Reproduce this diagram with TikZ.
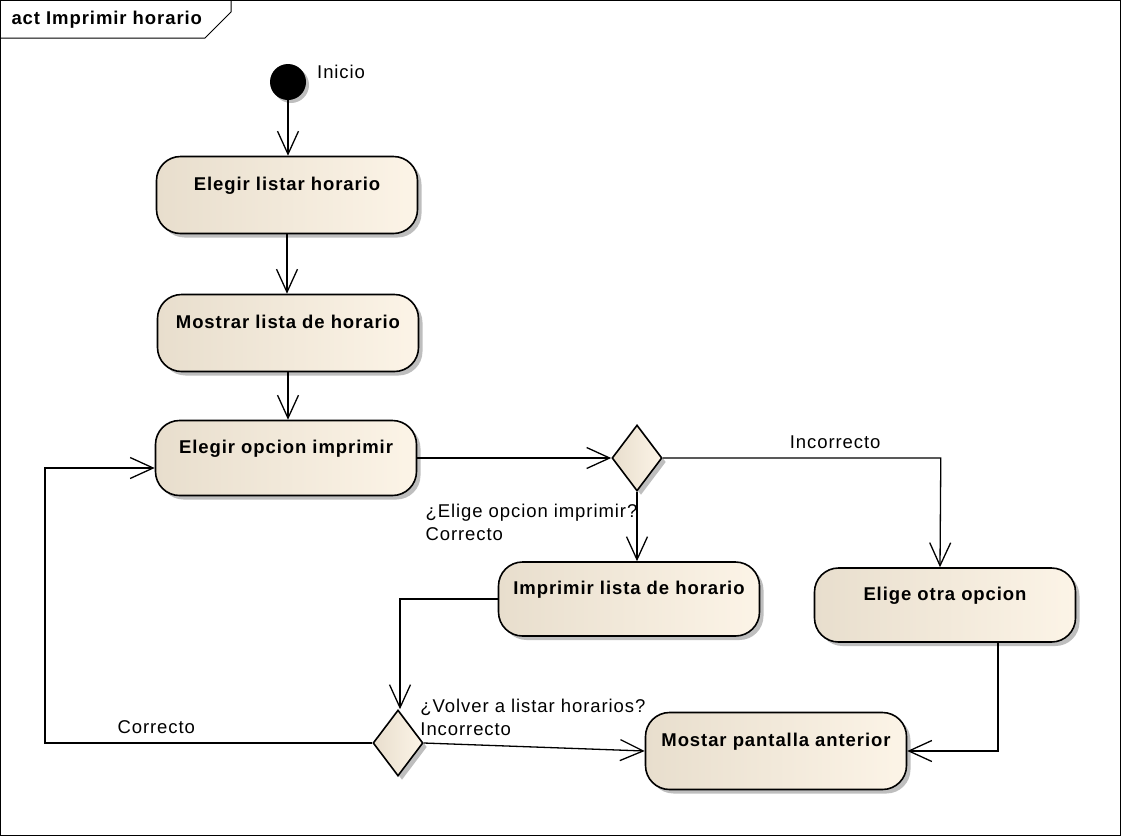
\documentclass[tikz,border=0pt]{standalone}
\usepackage{fontspec}
\setmainfont[LetterSpace=5]{Liberation Sans}
\usepackage{tikz}
\usetikzlibrary{arrows.meta, shapes.geometric, shadows}
\definecolor{actleft}{RGB}{232,222,205}
\definecolor{actright}{RGB}{252,244,231}
\definecolor{shadowgray}{RGB}{190,190,190}

\begin{document}
\begin{tikzpicture}[x=1pt, y=-1pt,
  act/.style={rectangle, rounded corners=24pt, draw=black, line width=1.6pt, left color=actleft, right color=actright, minimum width=261pt, minimum height=77pt, align=center, font=\fontsize{18.5}{23}\selectfont\bfseries, drop shadow={shadow xshift=4pt, shadow yshift=-4pt, fill=shadowgray, opacity=1}},
  dec/.style={diamond, draw=black, line width=1.6pt, left color=actleft, right color=actright, minimum width=50pt, minimum height=66pt, inner sep=0pt, drop shadow={shadow xshift=4pt, shadow yshift=-4pt, fill=shadowgray, opacity=1}},
  start/.style={circle, fill=black, minimum size=36pt, inner sep=0pt, drop shadow={shadow xshift=3pt, shadow yshift=-3pt, fill=shadowgray, opacity=1}},
  arr/.style={-{Straight Barb[length=23pt, width=21pt]}, line width=1.3pt},
  lbl/.style={font=\fontsize{18.5}{23}\selectfont, inner sep=1pt, align=left}
]
\useasboundingbox (0,0) rectangle (1121,836);
\draw[line width=1pt] (0.5,0.5) rectangle (1120.5,835.5);
\draw[line width=1pt] (0.5,38) -- (205,38) -- (231,12) -- (231,0.5);
\node[font=\fontsize{18.5}{23}\selectfont\bfseries, anchor=west] (title) at (8,20) {act Imprimir horario};

\node[start] (ini) at (288,82) {};
\node[lbl, anchor=west] (inilbl) at (316,72) {Inicio};
\node[act] (elegir) at (287,195) {Elegir listar horario\\ \mbox{}};
\node[act] (mostrar) at (288,333) {Mostrar lista de horario\\ \mbox{}};
\node[act, minimum height=75pt] (opcion) at (286,458) {Elegir opcion imprimir\\ \mbox{}};
\node[dec] (dimp) at (637,458) {};
\node[act, minimum height=74pt] (imprimir) at (629,599) {Imprimir lista de horario\\ \mbox{}};
\node[act, minimum height=74pt] (otra) at (945,605) {Elige otra opcion\\ \mbox{}};
\node[dec] (dvolver) at (398,743) {};
\node[act] (anterior) at (776,751) {Mostar pantalla anterior\\ \mbox{}};
\coordinate (vuelta) at (45,743);

\draw[arr] (ini.south) -- (ini.south |- elegir.north);
\draw[arr] (elegir.south) -- (elegir.south |- mostrar.north);
\draw[arr] (mostrar.south) -- (mostrar.south |- opcion.north);
\draw[arr] (opcion) -- (dimp);
\draw[arr] (dimp.east) -- node[lbl, above=8pt, pos=0.62] {Incorrecto} ++(278,0) -- ([xshift=-5pt]otra.north);
\draw[arr] (dimp.south) -- node[lbl, pos=0.15, anchor=north east, xshift=2pt] {¿Elige opcion imprimir?\\Correcto} (dimp.south |- imprimir.north);
\draw[arr] (imprimir.west) -| ([xshift=2pt]dvolver.north);
\draw[arr] (dvolver.west) -- node[lbl, above=8pt, pos=0.66] {Correcto} (vuelta) |- ([yshift=-10pt]opcion.west);
\draw[arr] (dvolver.east) -- node[lbl, pos=0, anchor=south west, yshift=6pt, xshift=-5pt] {¿Volver a listar horarios?\\Incorrecto} (anterior.west);
\draw[arr] ([xshift=53pt]otra.south) |- (anterior.east);
\end{tikzpicture}
\end{document}
